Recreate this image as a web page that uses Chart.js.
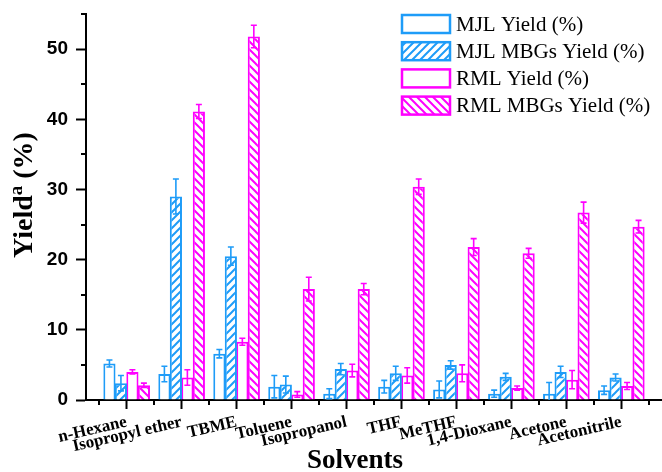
<!DOCTYPE html>
<html>
<head>
<meta charset="utf-8">
<script src="https://cdn.jsdelivr.net/npm/chart.js@4.4.1/dist/chart.umd.min.js"></script>
<style>
  html, body { margin: 0; padding: 0; background: #fff; }
  #wrap { width: 662px; height: 472px; position: relative; }
</style>
</head>
<body>
<div id="wrap"><canvas id="chart"></canvas></div>
<script>
const solvents = ['n-Hexane', 'Isopropyl ether', 'TBME', 'Toluene', 'Isopropanol', 'THF', 'MeTHF', '1,4-Dioxane', 'Acetone', 'Acetonitrile'];
const seriesNames = ['MJL Yield (%)', 'MJL MBGs Yield (%)', 'RML Yield (%)', 'RML MBGs Yield (%)'];

const mjlYield    = [5.2, 3.7, 6.6, 1.9, 0.9, 1.9, 1.5, 0.9, 0.9, 1.4];
const mjlYieldErr = [0.5, 1.1, 0.6, 1.6, 0.7, 0.9, 1.2, 0.5, 1.6, 0.6];
const mjlMbgs     = [2.4, 29.0, 20.5, 2.2, 4.4, 3.8, 5.0, 3.3, 4.0, 3.2];
const mjlMbgsErr  = [1.1, 2.5, 1.3, 1.2, 0.8, 1.0, 0.6, 0.5, 0.8, 0.5];
const rmlYield    = [4.0, 3.2, 8.3, 0.8, 4.2, 3.5, 3.8, 1.7, 2.9, 2.0];
const rmlYieldErr = [0.3, 1.1, 0.5, 0.4, 0.9, 1.1, 1.2, 0.3, 1.3, 0.5];
const rmlMbgs     = [2.1, 41.1, 51.8, 15.8, 15.8, 30.4, 21.8, 20.9, 26.7, 24.7];
const rmlMbgsErr  = [0.3, 1.0, 1.6, 1.7, 0.8, 1.1, 1.2, 0.7, 1.5, 0.9];
const yTicks = [0, 10, 20, 30, 40, 50];

const blue = '#1e9cf8';
const pink = '#ff00ff';

// diagonal hatch fill, dir > 0 gives "///", otherwise "\\\"
function hatch(color, dir) {
    const s = 8;
    const c = document.createElement('canvas');
    c.width = s; c.height = s;
    const g = c.getContext('2d');
    g.fillStyle = '#fff';
    g.fillRect(0, 0, s, s);
    g.strokeStyle = color;
    g.lineWidth = 2;
    g.beginPath();
    if (dir > 0) {
        g.moveTo(0, s); g.lineTo(s, 0);
        g.moveTo(-s, s); g.lineTo(s, -s);
        g.moveTo(0, 2 * s); g.lineTo(2 * s, 0);
    } else {
        g.moveTo(0, 0); g.lineTo(s, s);
        g.moveTo(-s, 0); g.lineTo(s, 2 * s);
        g.moveTo(0, -s); g.lineTo(2 * s, s);
    }
    g.stroke();
    return g.createPattern(c, 'repeat');
}

function series(label, values, errs, color, fill) {
    return {
        label: label,
        data: values.map((v, i) => ({ x: i, y: v })),
        errors: errs,
        borderColor: color,
        backgroundColor: fill,
        borderWidth: 2,
        borderSkipped: 'start',
        categoryPercentage: 0.836,
        barPercentage: 1.06
    };
}

const extras = {
    id: 'extras',
    afterDatasetsDraw(chart) {
        const ctx = chart.ctx;
        const y = chart.scales.y;
        chart.data.datasets.forEach((ds, d) => {
            const meta = chart.getDatasetMeta(d);
            ctx.save();
            ctx.strokeStyle = ds.borderColor;
            ctx.lineWidth = 1.6;
            meta.data.forEach((bar, i) => {
                const v = ds.data[i].y, e = ds.errors[i];
                const top = y.getPixelForValue(v + e);
                const bot = y.getPixelForValue(Math.max(v - e, 0));
                ctx.beginPath();
                ctx.moveTo(bar.x, top); ctx.lineTo(bar.x, bot);
                ctx.moveTo(bar.x - 3, top); ctx.lineTo(bar.x + 3, top);
                if (v - e > 0) { ctx.moveTo(bar.x - 3, bot); ctx.lineTo(bar.x + 3, bot); }
                ctx.stroke();
            });
            ctx.restore();
        });
    },
    afterDraw(chart) {
        const ctx = chart.ctx;
        const x = chart.scales.x, y = chart.scales.y;
        ctx.save();

        // minor ticks
        ctx.strokeStyle = '#000';
        ctx.lineWidth = 2;
        ctx.beginPath();
        for (let i = -1; i < solvents.length; i++) {
            const px = Math.round(x.getPixelForValue(i + 0.5));
            if (px < x.left || px > x.right) continue;
            ctx.moveTo(px, x.top); ctx.lineTo(px, x.top + 5);
        }
        for (let v = 5; v <= 55; v += 10) {
            const py = Math.round(y.getPixelForValue(v));
            ctx.moveTo(y.right - 5, py); ctx.lineTo(y.right, py);
        }
        ctx.stroke();

        // axis titles
        ctx.fillStyle = '#000';
        ctx.textBaseline = 'alphabetic';
        ctx.textAlign = 'center';
        ctx.font = 'bold 27px "Liberation Serif"';
        ctx.fillText('Solvents', 355, 468);

        const big = 'bold 28px "Liberation Serif"', small = 'bold 19px "Liberation Serif"';
        ctx.font = big;
        const w1 = ctx.measureText('Yield').width;
        const w3 = ctx.measureText(' (%)').width;
        ctx.font = small;
        const w2 = ctx.measureText('a').width;
        const total = w1 + w2 + w3;
        ctx.translate(32, 195);
        ctx.rotate(-Math.PI / 2);
        ctx.textAlign = 'left';
        let cx = -total / 2;
        ctx.font = big; ctx.fillText('Yield', cx, 0); cx += w1;
        ctx.font = small; ctx.fillText('a', cx, -10); cx += w2;
        ctx.font = big; ctx.fillText(' (%)', cx, 0);
        ctx.restore();

        // legend
        ctx.save();
        const lx = 402, ly = 15, step = 27.2, bw = 48, bh = 18;
        chart.data.datasets.forEach((ds, d) => {
            const top = ly + d * step;
            ctx.fillStyle = ds.backgroundColor;
            ctx.fillRect(lx, top, bw, bh);
            ctx.strokeStyle = ds.borderColor;
            ctx.lineWidth = 2.5;
            ctx.strokeRect(lx, top, bw, bh);
            ctx.fillStyle = '#000';
            ctx.font = '21px "Liberation Serif"';
            ctx.textAlign = 'left';
            ctx.textBaseline = 'middle';
            ctx.fillText(ds.label, lx + 54, top + bh / 2 + 1);
        });
        ctx.restore();
    }
};

new Chart(document.getElementById('chart'), {
    type: 'bar',
    data: {
        datasets: [
            series(seriesNames[0], mjlYield, mjlYieldErr, blue, '#fff'),
            series(seriesNames[1], mjlMbgs, mjlMbgsErr, blue, hatch(blue, 1)),
            series(seriesNames[2], rmlYield, rmlYieldErr, pink, '#fff'),
            series(seriesNames[3], rmlMbgs, rmlMbgsErr, pink, hatch(pink, -1))
        ]
    },
    options: {
        responsive: true,
        maintainAspectRatio: false,
        animation: false,
        events: [],
        layout: { padding: { top: 14, right: 0, bottom: 0, left: 0 } },
        plugins: {
            legend: { display: false },
            tooltip: { enabled: false }
        },
        scales: {
            x: {
                type: 'linear',
                min: -0.74,
                max: 9.74,
                offset: false,
                afterBuildTicks: s => { s.ticks = solvents.map((_, i) => ({ value: i })); },
                afterFit: s => { s.height = 72; s.paddingLeft = 0; s.paddingRight = 0; },
                grid: { display: true, offset: false, drawOnChartArea: false, drawTicks: true, tickLength: 9, tickWidth: 2, tickColor: '#000' },
                border: { display: true, color: '#000', width: 2 },
                ticks: {
                    autoSkip: false,
                    minRotation: 13,
                    maxRotation: 13,
                    padding: 3,
                    color: '#000',
                    font: { family: 'Liberation Serif', weight: 'bold', size: 17 },
                    callback: v => solvents[v]
                }
            },
            y: {
                min: 0,
                max: 55,
                afterBuildTicks: s => { s.ticks = yTicks.map(v => ({ value: v })); },
                afterFit: s => { s.width = 86; s.paddingTop = 0; s.paddingBottom = 0; },
                grid: { display: true, drawOnChartArea: false, drawTicks: true, tickLength: 10, tickWidth: 2, tickColor: '#000' },
                border: { display: true, color: '#000', width: 2 },
                ticks: {
                    padding: 8,
                    color: '#000',
                    font: { family: 'Liberation Sans', weight: 'bold', size: 19 }
                }
            }
        }
    },
    plugins: [extras]
});
</script>
</body>
</html>
